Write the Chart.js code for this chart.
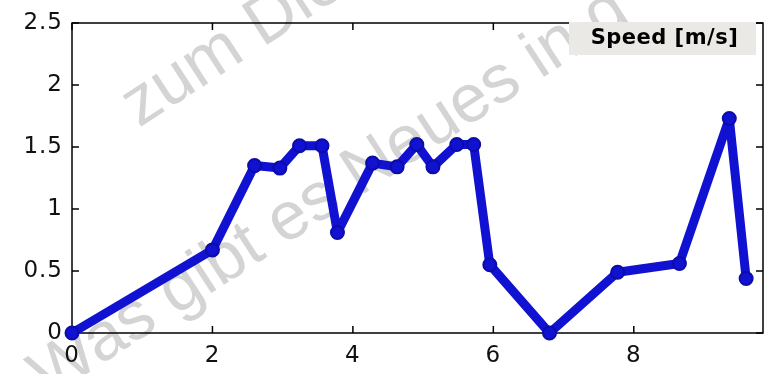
<!DOCTYPE html>
<html>
<head>
<meta charset="utf-8">
<script src="https://cdn.jsdelivr.net/npm/chart.js@4"></script>
<style>
  html, body { margin: 0; padding: 0; background: #fff; }
  #wrap { width: 776px; height: 374px; }
</style>
</head>
<body>
<div id="wrap"><canvas id="speedChart"></canvas></div>
<script>
// values
var timeValues  = [0, 2.0, 2.6, 2.96, 3.24, 3.56, 3.78, 4.28, 4.63, 4.91, 5.14, 5.48, 5.72, 5.95, 6.8, 7.77, 8.65, 9.36, 9.6];
var speedValues = [0, 0.67, 1.35, 1.33, 1.51, 1.51, 0.81, 1.37, 1.34, 1.52, 1.34, 1.52, 1.52, 0.55, 0, 0.49, 0.56, 1.73, 0.44];
var xTicks = [0, 2, 4, 6, 8];
var yTicks = [0, 0.5, 1, 1.5, 2, 2.5];
var legendText = 'Speed [m/s]';
var watermarkLines = ['zum Die', 'Was gibt es Neues in d'];

var lineBlue = '#1111d2';

// watermark, axes box with inner ticks, and the legend label
var matlabLook = {
    id: 'matlabLook',
    beforeDraw: function (chart) {
        var ctx = chart.ctx;
        ctx.save();
        ctx.fillStyle = '#ffffff';
        ctx.fillRect(0, 0, chart.width, chart.height);
        ctx.fillStyle = 'rgb(212,212,212)';
        ctx.font = '68px "Liberation Sans", Arial, sans-serif';
        ctx.textAlign = 'left';
        ctx.textBaseline = 'alphabetic';
        var spots = [[139, 128], [48, 399]];
        for (var i = 0; i < watermarkLines.length; i++) {
            ctx.save();
            ctx.translate(spots[i][0], spots[i][1]);
            ctx.rotate(-33 * Math.PI / 180);
            ctx.fillText(watermarkLines[i], 0, 0);
            ctx.restore();
        }
        ctx.restore();
        ctx.letterSpacing = '1px';
    },
    beforeDatasetsDraw: function (chart) {
        var ctx = chart.ctx;
        var a = chart.chartArea;
        var xs = chart.scales.x, ys = chart.scales.y;
        var len = 7;
        ctx.save();
        ctx.strokeStyle = '#000';
        ctx.lineWidth = 1.5;
        ctx.strokeRect(a.left, a.top, a.right - a.left, a.bottom - a.top);
        ctx.beginPath();
        xTicks.forEach(function (v) {
            var px = xs.getPixelForValue(v);
            ctx.moveTo(px, a.bottom); ctx.lineTo(px, a.bottom - len);
            ctx.moveTo(px, a.top); ctx.lineTo(px, a.top + len);
        });
        yTicks.forEach(function (v) {
            var py = ys.getPixelForValue(v);
            ctx.moveTo(a.left, py); ctx.lineTo(a.left + len, py);
            ctx.moveTo(a.right, py); ctx.lineTo(a.right - len, py);
        });
        ctx.stroke();
        ctx.restore();
    },
    afterDraw: function (chart) {
        var ctx = chart.ctx;
        var a = chart.chartArea;
        var w = 187, h = 33;
        var x0 = a.right - 7 - w, y0 = a.top - 1;
        ctx.save();
        ctx.fillStyle = '#ebe9e5';
        ctx.fillRect(x0, y0, w, h);
        ctx.fillStyle = '#000';
        ctx.font = 'bold 21px "DejaVu Sans", sans-serif';
        ctx.letterSpacing = '0.5px';
        ctx.textAlign = 'center';
        ctx.textBaseline = 'middle';
        ctx.fillText(legendText, x0 + w / 2 + 2, y0 + h / 2);
        ctx.restore();
        ctx.letterSpacing = '0px';
    }
};

var canvas = document.getElementById('speedChart');
var speedChart = new Chart(canvas, {
    type: 'line',
    data: {
        datasets: [{
            label: legendText,
            data: timeValues.map(function (t, i) { return { x: t, y: speedValues[i] }; }),
            borderColor: lineBlue,
            backgroundColor: lineBlue,
            borderWidth: 9,
            pointRadius: 6.5,
            pointBorderWidth: 2,
            pointBorderColor: '#0c0ca8',
            pointBackgroundColor: lineBlue,
            borderJoinStyle: 'round',
            tension: 0,
            fill: false,
            clip: false
        }]
    },
    options: {
        responsive: true,
        maintainAspectRatio: false,
        animation: false,
        layout: { padding: { top: 23, right: 13, left: 0, bottom: 0 } },
        plugins: {
            legend: { display: false },
            tooltip: { enabled: false }
        },
        scales: {
            x: {
                type: 'linear',
                min: 0,
                max: 9.84,
                grid: { display: false, drawTicks: false },
                border: { display: false },
                afterBuildTicks: function (scale) {
                    scale.ticks = xTicks.map(function (v) { return { value: v }; });
                },
                afterFit: function (scale) { scale.height = 41; },
                ticks: {
                    color: '#111',
                    padding: 9,
                    maxRotation: 0,
                    autoSkip: false,
                    callback: function (v) { return String(v); },
                    font: { family: 'DejaVu Sans', size: 23 }
                }
            },
            y: {
                min: 0,
                max: 2.5,
                grid: { display: false, drawTicks: false },
                border: { display: false },
                afterBuildTicks: function (scale) {
                    scale.ticks = yTicks.map(function (v) { return { value: v }; });
                },
                afterFit: function (scale) { scale.width = 72; },
                ticks: {
                    color: '#111',
                    padding: 9,
                    autoSkip: false,
                    callback: function (v) { return String(v); },
                    font: { family: 'DejaVu Sans', size: 23 }
                }
            }
        }
    },
    plugins: [matlabLook]
});
</script>
</body>
</html>
